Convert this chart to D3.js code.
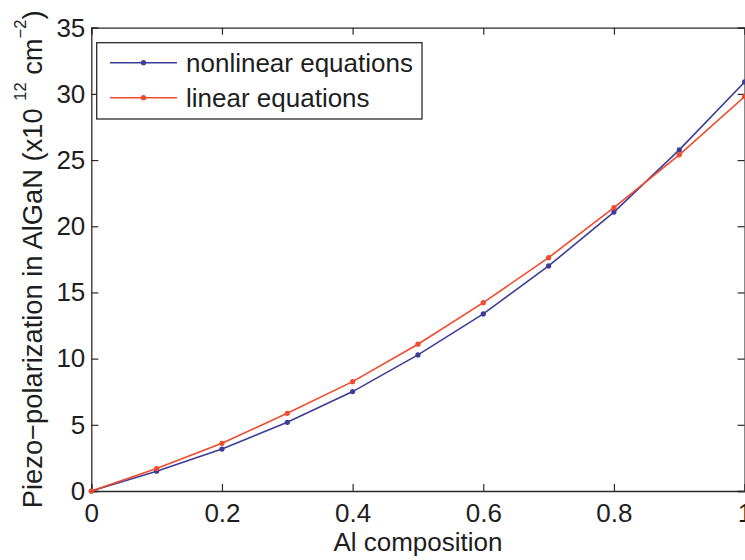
<!DOCTYPE html>
<html>
<head>
<meta charset="utf-8">
<script src="https://cdn.jsdelivr.net/npm/d3@7/dist/d3.min.js"></script>
<style>
  html, body { margin: 0; padding: 0; background: #fff; }
  svg { display: block; }
  text { font-family: "Liberation Sans", Arial, Helvetica, sans-serif; fill: #1e1e1e; }
</style>
</head>
<body>
<svg id="chart" width="745" height="560"></svg>
<script>
// Al composition of AlGaN
const composition = [0, 0.1, 0.2, 0.3, 0.4, 0.5, 0.6, 0.7, 0.8, 0.9, 1.0];
// Piezoelectric polarization (x10^12 cm^-2)
const nonlinearValues = [0, 1.5, 3.17, 5.19, 7.51, 10.28, 13.38, 17.0, 21.07, 25.77, 30.9];
const linearValues    = [0, 1.7, 3.6, 5.87, 8.26, 11.09, 14.23, 17.63, 21.41, 25.4, 29.8];
const seriesNames = ["nonlinear equations", "linear equations"];
const xTicks = [0, 0.2, 0.4, 0.6, 0.8, 1];
const yTicks = [0, 5, 10, 15, 20, 25, 30, 35];

const colors = ["#3d3d98", "#f24a2c"];
const axisColor = "#2a2a2a";
const fontSize = 26;

const svg = d3.select("#chart");
const plotLeft = 91.3, plotRight = 744.6, plotTop = 27.7, plotBottom = 491;

const x = d3.scaleLinear().domain([0, 1]).range([plotLeft, plotRight]);
const y = d3.scaleLinear().domain([0, 35]).range([plotBottom, plotTop]);

const tickLen = 7;

// axes with inward ticks (box style)
const gx = svg.append("g").attr("transform", `translate(0,${plotBottom})`)
  .call(d3.axisBottom(x).tickValues(xTicks).tickSize(-tickLen).tickPadding(13)
    .tickFormat(d => d === 0 || d === 1 ? d3.format("d")(d) : d3.format(".1f")(d)));
const gy = svg.append("g").attr("transform", `translate(${plotLeft},0)`)
  .call(d3.axisLeft(y).tickValues(yTicks).tickSize(-tickLen).tickPadding(6));
const gxt = svg.append("g").attr("transform", `translate(0,${plotTop})`)
  .call(d3.axisTop(x).tickValues(xTicks).tickSize(-tickLen).tickFormat(""));
const gyr = svg.append("g").attr("transform", `translate(${plotRight},0)`)
  .call(d3.axisRight(y).tickValues(yTicks).tickSize(-tickLen).tickFormat(""));

[gx, gy, gxt, gyr].forEach(g => {
  g.selectAll("path.domain").attr("stroke", axisColor).attr("stroke-width", 1.3);
  g.selectAll(".tick line").attr("stroke", axisColor).attr("stroke-width", 1.2);
  g.selectAll(".tick text").attr("font-size", fontSize).attr("fill", "#1e1e1e")
    .style("font-family", '"Liberation Sans", Arial, sans-serif');
});

// axis labels
svg.append("text")
  .attr("x", x(0.5)).attr("y", 551)
  .attr("text-anchor", "middle").attr("font-size", fontSize)
  .text("Al composition");

const yl = svg.append("text")
  .attr("transform", `translate(42,${(plotTop + plotBottom) / 2}) rotate(-90)`)
  .attr("text-anchor", "middle").attr("font-size", 27.3);
yl.append("tspan").text("Piezo\u2212polarization in AlGaN (x10  ");
yl.append("tspan").attr("dy", -16).attr("font-size", 16.5).text("12");
yl.append("tspan").attr("dy", 16).text(" cm");
yl.append("tspan").attr("dy", -16).attr("font-size", 16.5).text("\u22122");
yl.append("tspan").attr("dy", 16).text(")");

// series lines and markers
const series = [nonlinearValues, linearValues];
const line = d3.line().x((d, i) => x(composition[i])).y(d => y(d));
const plot = svg.append("g");
series.forEach((vals, s) => {
  plot.append("path").datum(vals)
    .attr("fill", "none").attr("stroke", colors[s]).attr("stroke-width", 1.6)
    .attr("d", line);
  plot.selectAll(null).data(vals).enter().append("circle")
    .attr("cx", (d, i) => x(composition[i])).attr("cy", d => y(d))
    .attr("r", 2.6).attr("fill", colors[s]);
});

// legend
const lg = svg.append("g");
lg.append("rect").attr("x", 96.7).attr("y", 42.7).attr("width", 325.3).attr("height", 76.3)
  .attr("fill", "#fff").attr("stroke", axisColor).attr("stroke-width", 1.3);
seriesNames.forEach((name, i) => {
  const ry = 62.7 + i * 35;
  lg.append("line").attr("x1", 110).attr("x2", 177).attr("y1", ry).attr("y2", ry)
    .attr("stroke", colors[i]).attr("stroke-width", 1.6);
  lg.append("circle").attr("cx", 143.5).attr("cy", ry).attr("r", 2.6).attr("fill", colors[i]);
  lg.append("text").attr("x", 186).attr("y", ry + 9).attr("font-size", fontSize).text(name);
});
</script>
</body>
</html>
